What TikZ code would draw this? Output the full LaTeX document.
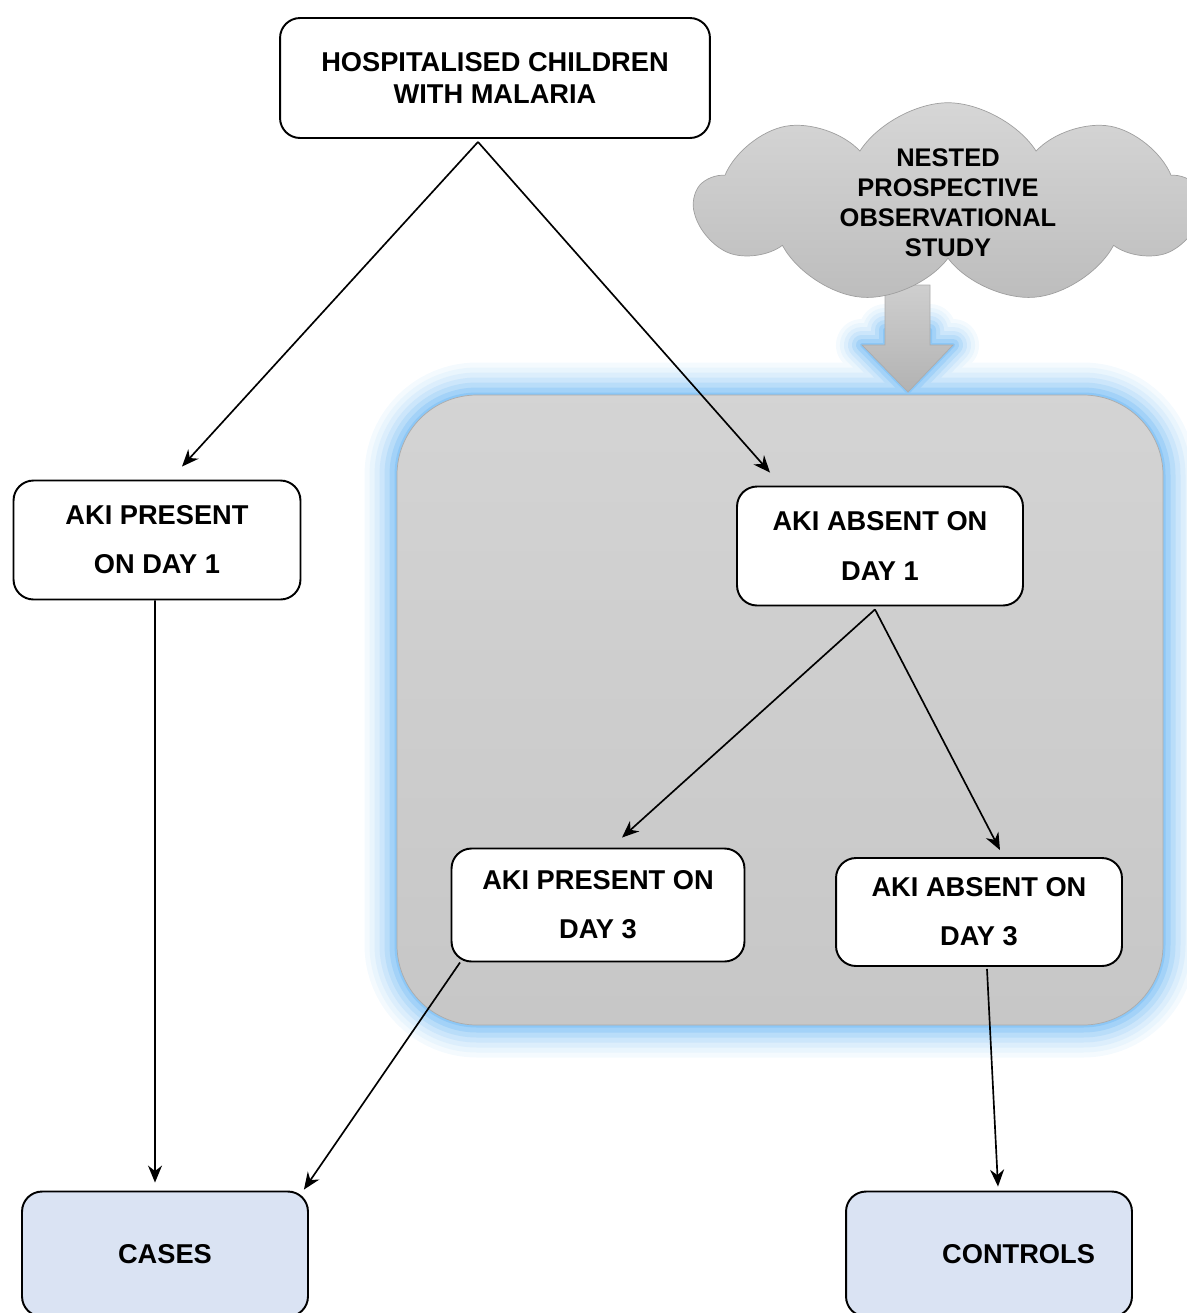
\documentclass[tikz,border=0pt]{standalone}
\usepackage{fontspec}
\setmainfont{Liberation Sans}
\usetikzlibrary{shapes.symbols, arrows.meta, positioning}
\definecolor{glowblue}{HTML}{78BDF4}
\definecolor{caseblue}{HTML}{DAE3F3}

\begin{document}
\begin{tikzpicture}[
        x=0.02cm, y=-0.02cm,
        box/.style={draw, line width=1.1pt, rounded corners=0.4cm, fill=#1, align=center, font={\fontsize{15.5}{28}\selectfont\bfseries}},
        box/.default=white,
        arrow/.style={-{Stealth[length=3.4mm, width=2.8mm]}, line width=0.95pt}
    ]
        \useasboundingbox (0,0) rectangle (1187,1313);
        \clip (0,0) rectangle (1187,1313);

        % Glow round the nested study area and its arrow
        \foreach \w/\c in {1.3/8, 1.1/16, 0.9/26, 0.7/38, 0.5/52, 0.3/68, 0.1/85} {
            \draw[glowblue!\c, line width=\w cm, rounded corners=1.6cm] (397,395) rectangle (1163,1025);
            \draw[glowblue!\c, line width=0.8*\w cm, line join=round] (885,330) -- (930,330) -- (930,345) -- (953,345) -- (908,392) -- (862,345) -- (885,345) -- cycle;
        }

        % Nested study area
        \draw[draw=gray!65, top color=black!17, bottom color=black!22, rounded corners=1.6cm] (397,395) rectangle (1163,1025);
        \draw[draw=gray!65, top color=black!19, bottom color=black!30] (885,285) -- (930,285) -- (930,345) -- (953,345) -- (908,392) -- (862,345) -- (885,345) -- cycle;

        % Cloud
        \node[cloud, cloud puffs=9, cloud puff arc=115, cloud ignores aspect, draw=gray!75, top color=black!16, bottom color=black!26,
              minimum width=10.1cm, minimum height=2.6cm, inner sep=0pt, align=center,
              font={\fontsize{14.5}{17}\selectfont\bfseries}] (study) at (948,203)
              {NESTED\\PROSPECTIVE\\OBSERVATIONAL\\STUDY};

        % Boxes
        \node[box, minimum width=8.6cm, minimum height=2.4cm, font={\fontsize{15.5}{18}\selectfont\bfseries}] (hosp) at (495,78) {HOSPITALISED CHILDREN\\WITH MALARIA};
        \node[box, minimum width=5.74cm, minimum height=2.38cm] (pres1) at (157,540) {AKI PRESENT\\ON DAY 1};
        \node[box, minimum width=5.72cm, minimum height=2.38cm] (abs1) at (880,546) {AKI ABSENT ON\\DAY 1};
        \node[box, minimum width=5.86cm, minimum height=2.26cm] (pres3) at (598,905) {AKI PRESENT ON\\DAY 3};
        \node[box, minimum width=5.72cm, minimum height=2.16cm] (abs3) at (979,912) {AKI ABSENT ON\\DAY 3};
        \node[box=caseblue, minimum width=5.72cm, minimum height=2.5cm] (cases) at (165,1254) {CASES};
        \node[box=caseblue, minimum width=5.72cm, minimum height=2.5cm, text width=4.24cm, inner xsep=0.74cm, align=right] (controls) at (989,1254) {CONTROLS};

        % Arrows
        \draw[arrow] ([xshift=-0.34cm, yshift=-0.06cm]hosp.south) -- ([xshift=0.5cm, yshift=0.26cm]pres1.north);
        \draw[arrow] ([xshift=-0.34cm, yshift=-0.06cm]hosp.south) -- ([xshift=-2.2cm, yshift=0.26cm]abs1.north);
        \draw[arrow] ([xshift=-0.04cm]pres1.south) -- ([xshift=-0.2cm, yshift=0.16cm]cases.north);
        \draw[arrow] ([xshift=-0.1cm, yshift=-0.06cm]abs1.south) -- ([xshift=0.48cm, yshift=0.2cm]pres3.north);
        \draw[arrow] ([xshift=-0.1cm, yshift=-0.06cm]abs1.south) -- ([xshift=0.42cm, yshift=0.14cm]abs3.north);
        \draw[arrow] ([xshift=-2.76cm]pres3.south) -- ([xshift=-0.1cm, yshift=0.02cm]cases.north east);
        \draw[arrow] ([xshift=0.16cm, yshift=-0.04cm]abs3.south) -- ([xshift=0.18cm, yshift=0.08cm]controls.north);

    \end{tikzpicture}
\end{document}
